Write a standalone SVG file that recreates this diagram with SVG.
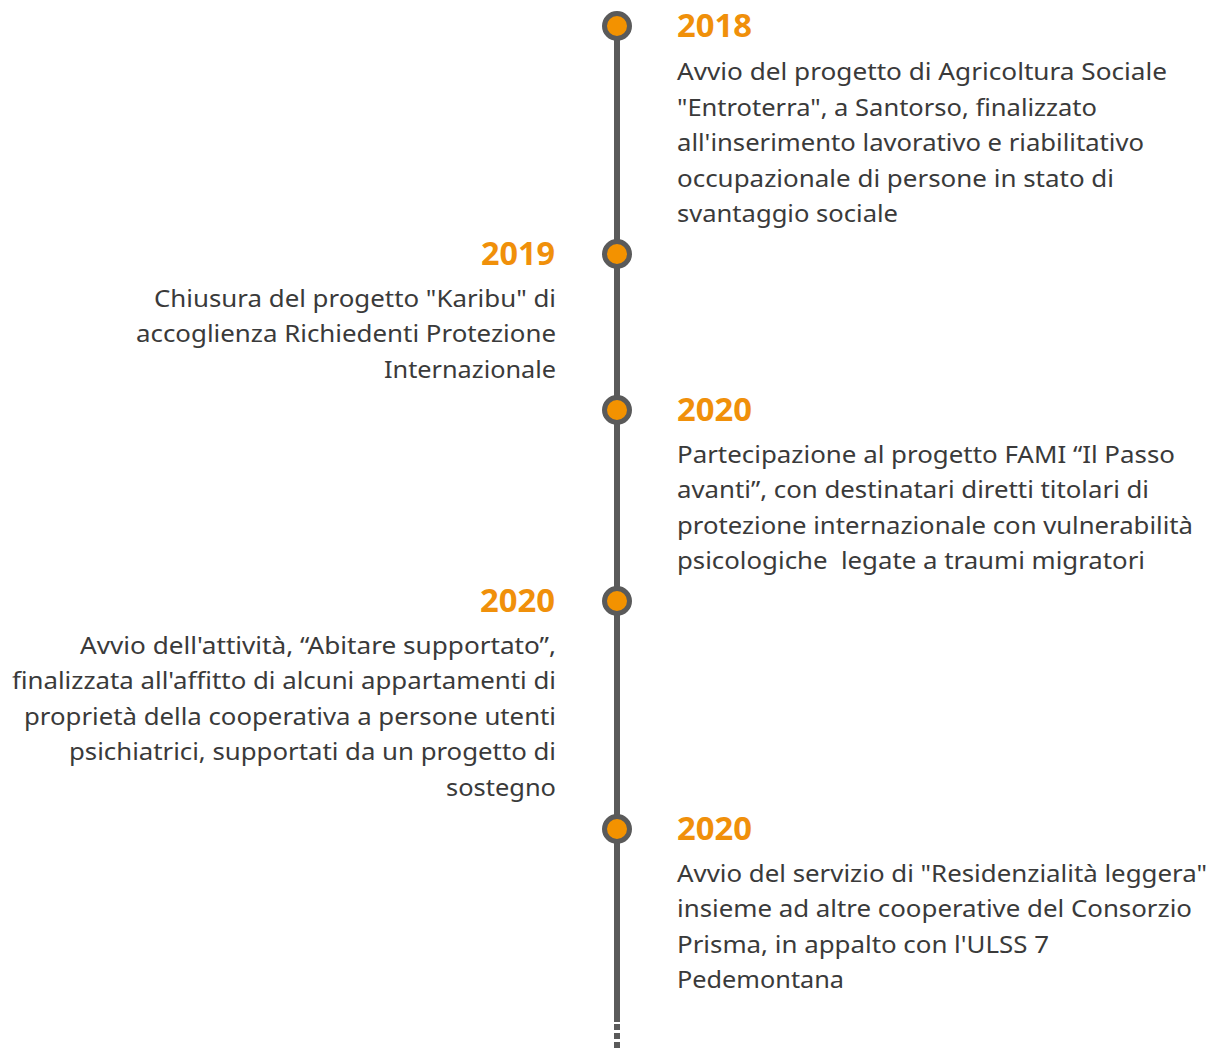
<svg xmlns="http://www.w3.org/2000/svg" width="1220" height="1050" viewBox="0 0 1220 1050">
<style>
.yr{font-family:"Noto Sans","Open Sans",sans-serif;font-weight:700;font-size:32px;fill:#F0900A}
.tx{font-family:"Noto Sans","Open Sans",sans-serif;font-size:24px;fill:#3a3a3a;white-space:pre}
.r{text-anchor:start}
.l{text-anchor:end}
.dot{fill:#F39200;stroke:#5a5a5a;stroke-width:5}
</style>
<rect width="1220" height="1050" fill="#ffffff"/>
<g id="connectors">
<line x1="617" y1="26" x2="617" y2="1022" stroke="#5a5a5a" stroke-width="6"/>
<line x1="617" y1="1024" x2="617" y2="1050" stroke="#5a5a5a" stroke-width="6" stroke-dasharray="6 3"/>
</g>
<g id="n2018">
<circle class="dot" cx="617" cy="26" r="12.5"/>
<text class="yr r" x="677" y="37" textLength="75" lengthAdjust="spacingAndGlyphs">2018</text>
<text class="tx r" x="677" y="80" textLength="490" lengthAdjust="spacingAndGlyphs">Avvio del progetto di Agricoltura Sociale</text>
<text class="tx r" x="677" y="115.5" textLength="420" lengthAdjust="spacingAndGlyphs">"Entroterra", a Santorso, finalizzato</text>
<text class="tx r" x="677" y="151" textLength="467" lengthAdjust="spacingAndGlyphs">all'inserimento lavorativo e riabilitativo</text>
<text class="tx r" x="677" y="186.5" textLength="437" lengthAdjust="spacingAndGlyphs">occupazionale di persone in stato di</text>
<text class="tx r" x="677" y="222" textLength="221" lengthAdjust="spacingAndGlyphs">svantaggio sociale</text>
</g>
<g id="n2019">
<circle class="dot" cx="617" cy="254" r="12.5"/>
<text class="yr l" x="555" y="265" textLength="74" lengthAdjust="spacingAndGlyphs">2019</text>
<text class="tx l" x="556" y="306.5" textLength="402" lengthAdjust="spacingAndGlyphs">Chiusura del progetto "Karibu" di</text>
<text class="tx l" x="556" y="342" textLength="420" lengthAdjust="spacingAndGlyphs">accoglienza Richiedenti Protezione</text>
<text class="tx l" x="556" y="377.5" textLength="172" lengthAdjust="spacingAndGlyphs">Internazionale</text>
</g>
<g id="n2020a">
<circle class="dot" cx="617" cy="410" r="12.5"/>
<text class="yr r" x="677" y="421" textLength="75" lengthAdjust="spacingAndGlyphs">2020</text>
<text class="tx r" x="677" y="462.5" textLength="498" lengthAdjust="spacingAndGlyphs">Partecipazione al progetto FAMI “Il Passo</text>
<text class="tx r" x="677" y="498" textLength="472" lengthAdjust="spacingAndGlyphs">avanti”, con destinatari diretti titolari di</text>
<text class="tx r" x="677" y="533.5" textLength="516" lengthAdjust="spacingAndGlyphs">protezione internazionale con vulnerabilità</text>
<text class="tx r" x="677" y="569" textLength="468" lengthAdjust="spacingAndGlyphs" xml:space="preserve">psicologiche  legate a traumi migratori</text>
</g>
<g id="n2020b">
<circle class="dot" cx="617" cy="601" r="12.5"/>
<text class="yr l" x="555" y="612" textLength="75" lengthAdjust="spacingAndGlyphs">2020</text>
<text class="tx l" x="556" y="653.5" textLength="476" lengthAdjust="spacingAndGlyphs">Avvio dell'attività, “Abitare supportato”,</text>
<text class="tx l" x="556" y="689" textLength="544" lengthAdjust="spacingAndGlyphs">finalizzata all'affitto di alcuni appartamenti di</text>
<text class="tx l" x="556" y="724.5" textLength="532" lengthAdjust="spacingAndGlyphs">proprietà della cooperativa a persone utenti</text>
<text class="tx l" x="556" y="760" textLength="487" lengthAdjust="spacingAndGlyphs">psichiatrici, supportati da un progetto di</text>
<text class="tx l" x="556" y="795.5" textLength="110" lengthAdjust="spacingAndGlyphs">sostegno</text>
</g>
<g id="n2020c">
<circle class="dot" cx="617" cy="829" r="12.5"/>
<text class="yr r" x="677" y="840" textLength="75" lengthAdjust="spacingAndGlyphs">2020</text>
<text class="tx r" x="677" y="881.5" textLength="530" lengthAdjust="spacingAndGlyphs">Avvio del servizio di "Residenzialità leggera"</text>
<text class="tx r" x="677" y="917" textLength="515" lengthAdjust="spacingAndGlyphs">insieme ad altre cooperative del Consorzio</text>
<text class="tx r" x="677" y="952.5" textLength="372" lengthAdjust="spacingAndGlyphs">Prisma, in appalto con l'ULSS 7</text>
<text class="tx r" x="677" y="988" textLength="167" lengthAdjust="spacingAndGlyphs">Pedemontana</text>
</g>
</svg>
